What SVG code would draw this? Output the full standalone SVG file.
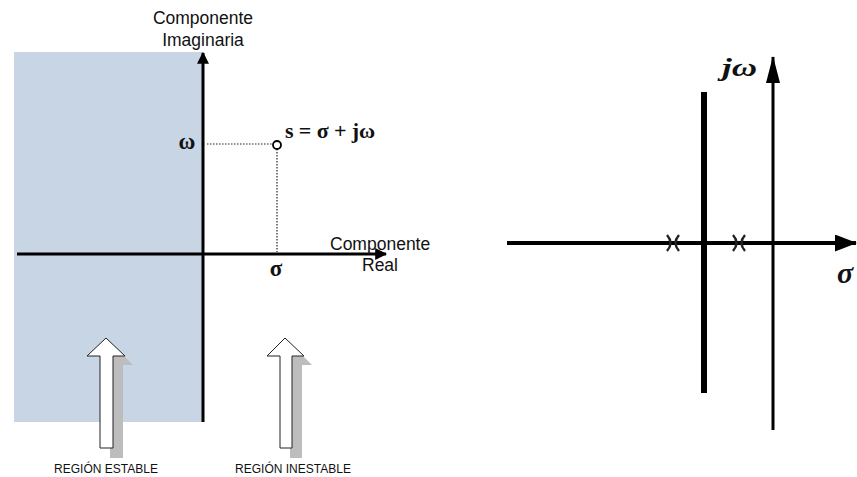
<svg xmlns="http://www.w3.org/2000/svg" width="857" height="477" viewBox="0 0 857 477">
<style>
.sans{font-family:"Liberation Sans",Arial,sans-serif;fill:#111}
.ser{font-family:"Liberation Serif","Times New Roman",serif;font-weight:bold;fill:#111}
.it{font-family:"Liberation Serif","Times New Roman",serif;font-style:italic;font-weight:bold;fill:#111}
.dot{stroke:#222;stroke-width:1.2;stroke-dasharray:1.5 1.5;fill:none}
.hollow{fill:#fff;stroke:#222;stroke-width:1}
.shadow{fill:#bdbdbd}
</style>
<defs>
<marker id="ah" viewBox="0 0 10 10" refX="9" refY="5" markerWidth="4" markerHeight="4" orient="auto" markerUnits="strokeWidth">
<path d="M0,0 L10,5 L0,10 Z" fill="#000"/>
</marker>
<marker id="ahv" viewBox="0 0 27 14" refX="26" refY="7" markerWidth="27" markerHeight="14" orient="auto" markerUnits="userSpaceOnUse">
<path d="M0,0 L27,7 L0,14 Z" fill="#000"/>
</marker>
<marker id="ahh" viewBox="0 0 22 17" refX="21" refY="8.5" markerWidth="22" markerHeight="17" orient="auto" markerUnits="userSpaceOnUse">
<path d="M0,0 L22,8.5 L0,17 Z" fill="#000"/>
</marker>
</defs>
<rect width="857" height="477" fill="#fff"/>
<g id="stable-region">
<rect x="14" y="52" width="189" height="370" fill="#c8d5e5"/>
</g>
<g id="connectors">
<line x1="203" y1="422" x2="203" y2="53" stroke="#000" stroke-width="3" marker-end="url(#ah)"/>
<line x1="17" y1="254" x2="386" y2="254" stroke="#000" stroke-width="3" marker-end="url(#ah)"/>
<line class="dot" x1="207" y1="144" x2="273" y2="144"/>
<line class="dot" x1="277" y1="149" x2="277" y2="252"/>
<line x1="507" y1="243" x2="856" y2="243" stroke="#000" stroke-width="4" marker-end="url(#ahh)"/>
<line x1="704" y1="92" x2="704" y2="393" stroke="#000" stroke-width="6"/>
<line x1="773" y1="430" x2="773" y2="57" stroke="#000" stroke-width="3" marker-end="url(#ahv)"/>
</g>
<g id="labels-left">
<text class="sans" x="203" y="24" font-size="17.5" text-anchor="middle">Componente</text>
<text class="sans" x="203" y="46" font-size="17.5" text-anchor="middle">Imaginaria</text>
<text class="ser" x="187" y="149" font-size="23" text-anchor="middle">ω</text>
<text class="ser" x="285" y="138" font-size="22" textLength="90">s = σ + jω</text>
<text class="ser" x="276" y="276" font-size="23" text-anchor="middle">σ</text>
<text class="sans" x="330" y="250" font-size="17.5">Componente</text>
<text class="sans" x="362" y="271" font-size="17.5">Real</text>
<text class="sans" x="106" y="473" font-size="12" text-anchor="middle">REGIÓN ESTABLE</text>
<text class="sans" x="293" y="473" font-size="12" text-anchor="middle">REGIÓN INESTABLE</text>
</g>
<g id="point-s">
<circle cx="277" cy="145" r="4" fill="#fff" stroke="#000" stroke-width="1.8"/>
</g>
<g id="arrow-stable">
<path class="shadow" d="M114,346 L133,365 L123,365 L123,458 L110,458 L110,365 Z"/>
<path class="hollow" d="M106,338 L125,356 L113,356 L113,448 L100,448 L100,356 L87,356 Z"/>
</g>
<g id="arrow-unstable">
<path class="shadow" d="M293,346 L312,365 L302,365 L302,458 L290,458 L290,365 Z"/>
<path class="hollow" d="M285,338 L304,356 L292,356 L292,448 L280,448 L280,356 L267,356 Z"/>
</g>
<g id="poles">
<path d="M667,235 Q674,243 667,251 M679,235 Q672,243 679,251" stroke="#222" stroke-width="2.4" fill="none"/>
<path d="M733,235 Q740,243 733,251 M745,235 Q738,243 745,251" stroke="#222" stroke-width="2.4" fill="none"/>
</g>
<g id="labels-right">
<text class="it" x="722" y="76" font-size="26" textLength="35" lengthAdjust="spacingAndGlyphs">jω</text>
<text class="it" x="837" y="283" font-size="30">σ</text>
</g>
</svg>
